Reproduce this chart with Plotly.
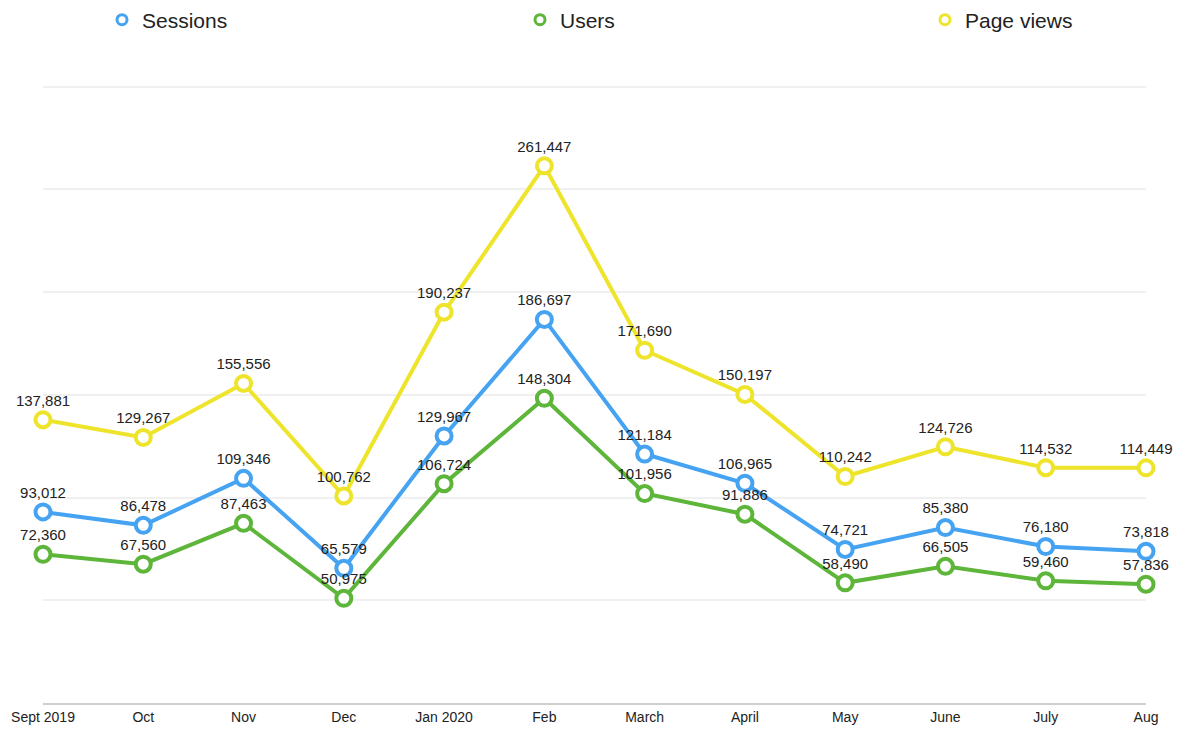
import plotly.graph_objects as go

months = ["Sept 2019", "Oct", "Nov", "Dec", "Jan 2020", "Feb", "March",
          "April", "May", "June", "July", "Aug"]
sessions = [93012, 86478, 109346, 65579, 129967, 186697, 121184, 106965,
            74721, 85380, 76180, 73818]
users = [72360, 67560, 87463, 50975, 106724, 148304, 101956, 91886,
         58490, 66505, 59460, 57836]
page_views = [137881, 129267, 155556, 100762, 190237, 261447, 171690,
              150197, 110242, 124726, 114532, 114449]

series = [
    ("Sessions", sessions, "#45a3f2"),
    ("Users", users, "#5db53a"),
    ("Page views", page_views, "#ede42b"),
]

W, H = 1170, 723
legend_x = [94, 512, 917]

FONT = "Liberation Sans, Arial, sans-serif"
fig = go.Figure()
for name, vals, col in series:
    fig.add_trace(go.Scatter(
        x=months, y=vals, mode="lines+markers+text",
        name=name, showlegend=False, cliponaxis=False,
        line=dict(color=col, width=4),
        marker=dict(symbol="circle", size=15, color="white",
                    line=dict(color=col, width=4)),
        text=[f"{v:,}" for v in vals], textposition="top center",
        textfont=dict(family=FONT, size=15, color="#222222"),
    ))

legend_ids = ["legend", "legend2", "legend3"]
legends = {}
for (name, vals, col), lid, lx in zip(series, legend_ids, legend_x):
    fig.add_trace(go.Scatter(
        x=[None], y=[None], mode="markers", name=name, legend=lid,
        marker=dict(symbol="circle", size=10, color="white",
                    line=dict(color=col, width=3)),
    ))
    legends[lid] = dict(orientation="h", xref="container", yref="container",
                        x=lx / W, y=1 - 12 / H, xanchor="left", yanchor="middle",
                        bgcolor="rgba(0,0,0,0)",
                        font=dict(family=FONT, size=21, color="#222222"))

fig.update_layout(
    width=W, height=H,
    paper_bgcolor="white", plot_bgcolor="white",
    margin=dict(l=35, r=32, t=77, b=28, autoexpand=False),
    font=dict(family=FONT, color="#222222"),
    showlegend=True,
    xaxis=dict(type="category", range=[0, 11], showgrid=False, automargin=False,
               showline=True, linecolor="#cfcfcf", linewidth=2,
               ticks="", tickfont=dict(family=FONT, size=14, color="#222222")),
    yaxis=dict(range=[0, 300800], tick0=0, dtick=50000, showticklabels=False,
               automargin=False,
               showgrid=True, gridcolor="#f0f0f0", gridwidth=2,
               zeroline=False, showline=False),
    **legends,
)

fig.write_html("out.html")
